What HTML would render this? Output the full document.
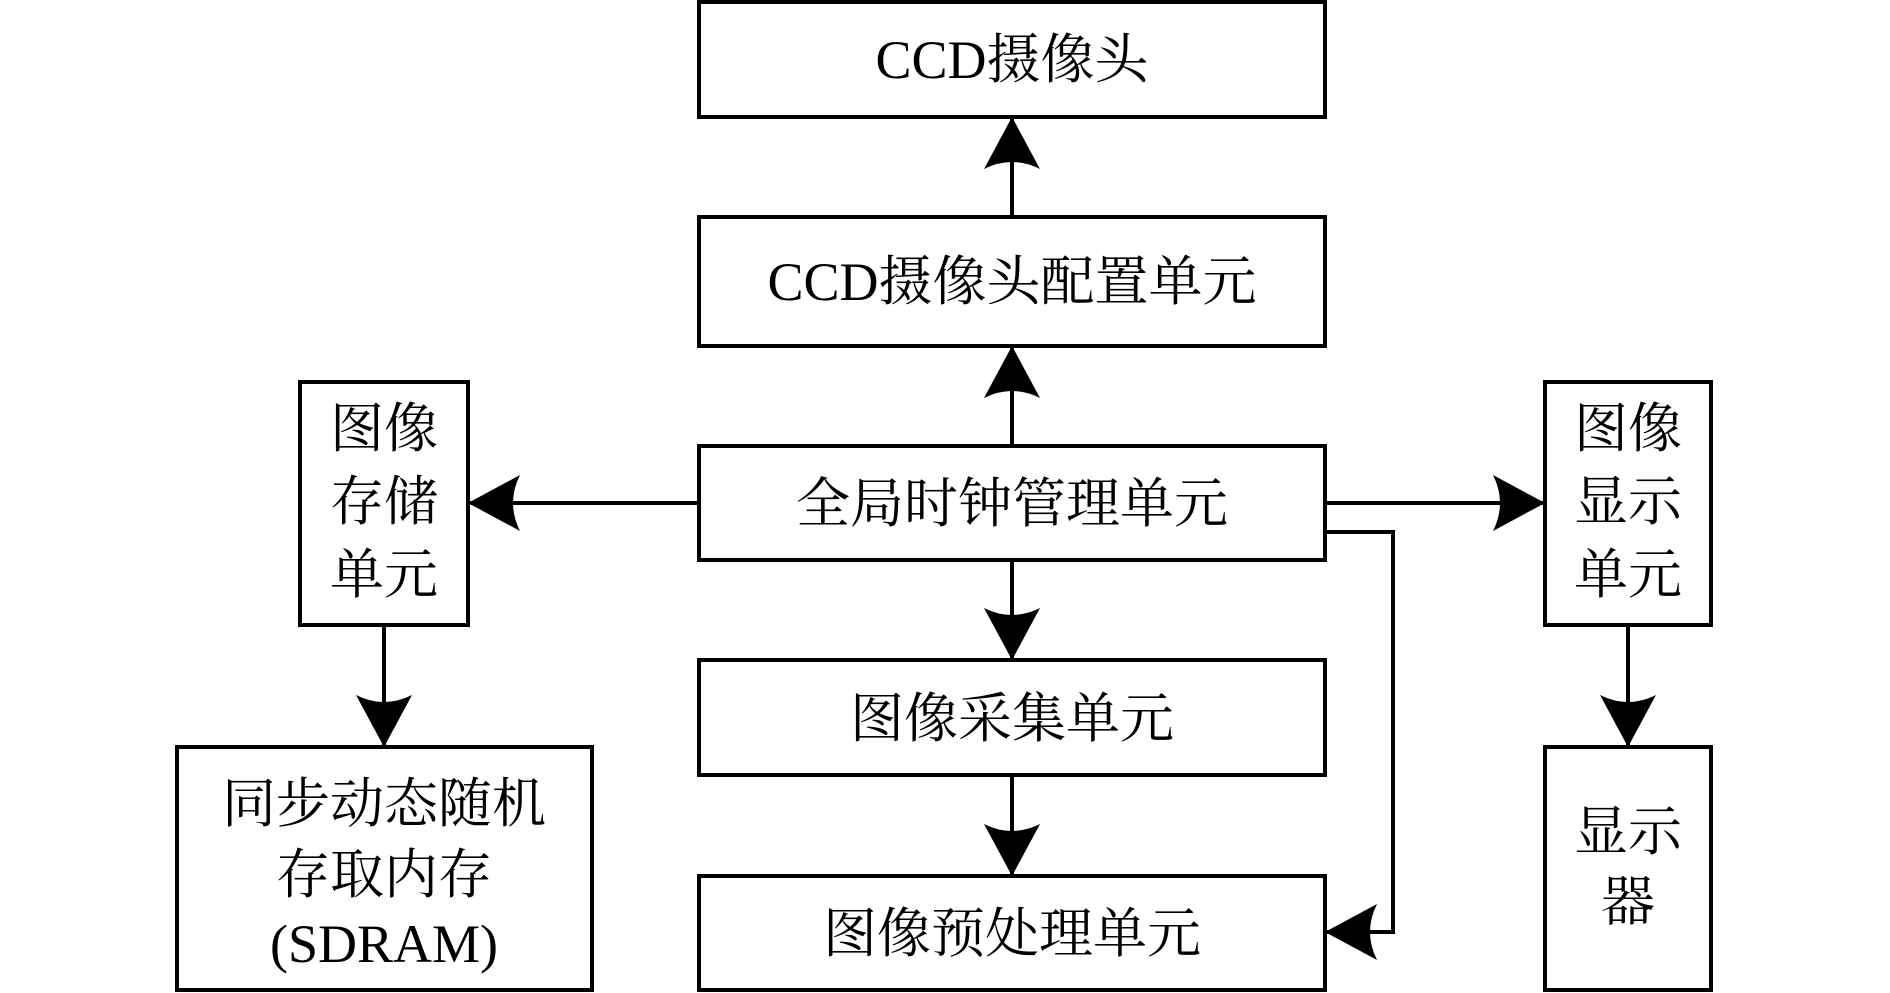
<!DOCTYPE html>
<html><head><meta charset="utf-8"><style>
html,body{margin:0;padding:0;background:#fff;}
svg{display:block;}
text{font-family:"Liberation Serif","Noto Serif CJK SC",serif;font-size:54px;fill:#000;text-anchor:middle;}
</style></head><body>
<svg width="1890" height="993" viewBox="0 0 1890 993" xmlns="http://www.w3.org/2000/svg">
<defs>
<marker id="a" markerWidth="52" markerHeight="56" refX="50" refY="28" orient="auto" markerUnits="userSpaceOnUse">
<path d="M0,0 L52,28 L0,56 Q14,28 0,0 Z" fill="#000"/>
</marker>
</defs>
<g fill="none" stroke="#000" stroke-width="4">
<rect x="699" y="2" width="626" height="115"/>
<rect x="699" y="217" width="626" height="129"/>
<rect x="699" y="446" width="626" height="114"/>
<rect x="699" y="660" width="626" height="115"/>
<rect x="699" y="876" width="626" height="114"/>
<rect x="300" y="382" width="168" height="243"/>
<rect x="177" y="747" width="415" height="243"/>
<rect x="1545" y="382" width="166" height="243"/>
<rect x="1545" y="747" width="166" height="243"/>
<line x1="1012" y1="217" x2="1012" y2="119" marker-end="url(#a)"/>
<line x1="1012" y1="446" x2="1012" y2="348" marker-end="url(#a)"/>
<line x1="1012" y1="560" x2="1012" y2="658" marker-end="url(#a)"/>
<line x1="1012" y1="775" x2="1012" y2="874" marker-end="url(#a)"/>
<line x1="699" y1="503" x2="470" y2="503" marker-end="url(#a)"/>
<line x1="1325" y1="503" x2="1543" y2="503" marker-end="url(#a)"/>
<line x1="384" y1="625" x2="384" y2="745" marker-end="url(#a)"/>
<line x1="1628" y1="625" x2="1628" y2="745" marker-end="url(#a)"/>
<polyline points="1325,532 1393,532 1393,932 1327,932" marker-end="url(#a)"/>
</g>
<text x="1012" y="78">CCD摄像头</text>
<text x="1012" y="300">CCD摄像头配置单元</text>
<text x="1012" y="522">全局时钟管理单元</text>
<text x="1012" y="737">图像采集单元</text>
<text x="1012" y="952">图像预处理单元</text>
<text x="384" y="447">图像</text>
<text x="384" y="520">存储</text>
<text x="384" y="593">单元</text>
<text x="1628" y="447">图像</text>
<text x="1628" y="520">显示</text>
<text x="1628" y="593">单元</text>
<text x="1628" y="850">显示</text>
<text x="1628" y="920">器</text>
<text x="384" y="822">同步动态随机</text>
<text x="384" y="893">存取内存</text>
<text x="384" y="962">(SDRAM)</text>
</svg>
</body></html>
